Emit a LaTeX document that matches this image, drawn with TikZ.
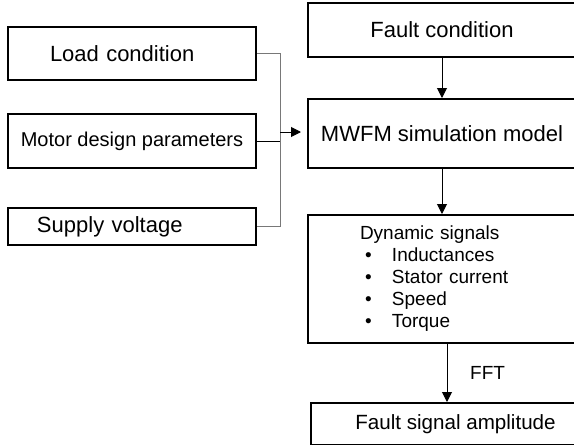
\documentclass[tikz,border=0pt]{standalone}
\usepackage{fontspec}
\setmainfont{Liberation Sans}
\usetikzlibrary{arrows.meta,positioning,calc}
\definecolor{busgray}{RGB}{120,120,120}
\newcommand{\sigitem}[1]{\hspace*{2.5pt}\makebox[13.5pt][l]{\textbullet}#1}

\begin{document}
\begin{tikzpicture}[x=0.5pt,y=-0.5pt,
    block/.style={draw, line width=1pt, inner ysep=2pt, font=\fontsize{11}{13}\selectfont},
    flow/.style={-{Triangle[length=5pt,width=5pt]}, line width=0.5pt},
    feed/.style={line width=0.5pt, busgray}]
    \clip (0,0) rectangle (574,445);

    % input blocks
    \node[block, minimum width=124pt, minimum height=26.5pt, inner xsep=21pt, text width=82pt, align=left] (load) at (132,53.5) {Load condition};
    \node[block, minimum width=124pt, minimum height=27pt, font=\fontsize{10}{12}\selectfont] (motor) at (132,141) {Motor design parameters};
    \node[block, minimum width=124pt, minimum height=18.5pt, inner xsep=14.5pt, text width=95pt, align=left] (supply) at (132,226.5) {Supply voltage};

    % main column
    \node[block, minimum width=134pt, minimum height=27pt] (fault) at (442,30) {Fault condition};
    \node[block, minimum width=134pt, minimum height=34.5pt] (mwfm) at (442,133.5) {MWFM simulation model};
    \node[block, minimum width=139pt, minimum height=64pt, inner xsep=26pt, text width=87pt, align=left, font=\fontsize{9.5}{11}\selectfont] (dyn) at (447,279) {Dynamic signals\\
        \sigitem{Inductances}\\
        \sigitem{Stator current}\\
        \sigitem{Speed}\\
        \sigitem{Torque}};
    \node[block, minimum width=144.5pt, minimum height=21pt, font=\fontsize{10.3}{12}\selectfont] (amp) at (455.5,424) {Fault signal amplitude};

    \coordinate (bus) at (280,132);

    \draw[feed] (load.east) -| (bus |- supply.east) -- (supply.east);
    \draw[line width=0.5pt] (motor.east) -- (motor.east -| bus);
    \draw[flow, shorten >=3pt] (bus) -- (bus -| mwfm.west);
    \draw[flow] (fault) -- (mwfm);
    \draw[flow] (mwfm.south) -- (mwfm.south |- dyn.north);
    \draw[flow] (dyn.south) -- (dyn.south |- amp.north)
        node[midway, right=8pt, font=\fontsize{9.5}{11}\selectfont] (fft) {FFT};
\end{tikzpicture}
\end{document}
